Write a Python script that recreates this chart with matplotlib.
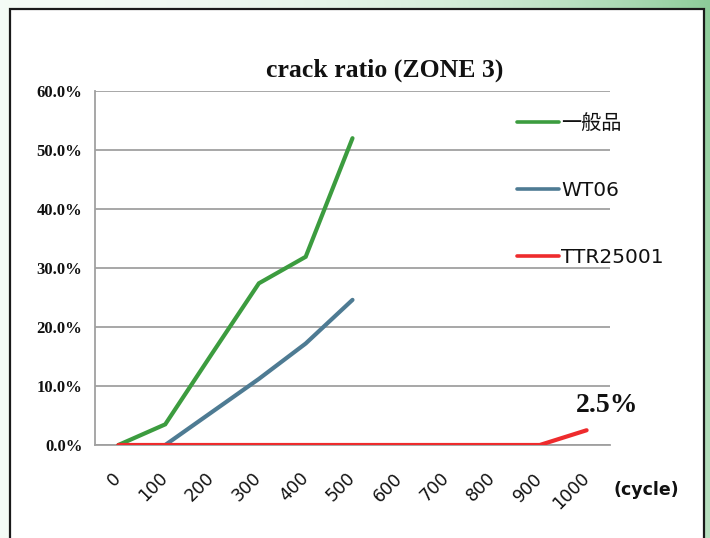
import numpy as np
import matplotlib
matplotlib.use("Agg")
import matplotlib.pyplot as plt
from matplotlib.patches import Rectangle
from matplotlib.ticker import PercentFormatter

cycles = ["0", "100", "200", "300", "400", "500", "600", "700", "800", "900", "1000"]
general = [0.0, 3.5, 15.5, 27.4, 31.9, 52.0, None, None, None, None, None]
wt06 = [None, 0.0, 5.6, 11.2, 17.2, 24.6, None, None, None, None, None]
ttr25001 = [0.0, 0.0, 0.0, 0.0, 0.0, 0.0, 0.0, 0.0, 0.0, 0.0, 2.5]
series_names = ["一般品", "WT06", "TTR25001"]
series_colors = ["#3c9c3f", "#4e7b93", "#ee2b2d"]
yticks = [0, 10, 20, 30, 40, 50, 60]

W, H = 710, 538
fig = plt.figure(figsize=(W / 100, H / 100), dpi=100)

# background gradient
bg = fig.add_axes([0, 0, 1, 1], zorder=-10)
bg.set_axis_off()
xx = np.linspace(0, 1, W)[None, :]
yy = np.linspace(0, 1, H)[:, None]
c0 = np.array([0.96, 0.985, 0.965])
c1 = np.array([0.55, 0.80, 0.60])
t = np.clip(0.15 * xx + 0.85 * xx ** 3 * (1 - 0.5 * yy), 0, 1)
img = c0[None, None, :] * (1 - t[..., None]) + c1[None, None, :] * t[..., None]
bg.imshow(img, extent=[0, W, H, 0], aspect="auto")
bg.set_xlim(0, W)
bg.set_ylim(H, 0)
bg.add_patch(Rectangle((9.5, 8.5), 694, 540, facecolor="white",
                       edgecolor="#1a1a1a", linewidth=1.6))

left, right, top, bottom = 95, 610, 91, 445
ax = fig.add_axes([left / W, 1 - bottom / H, (right - left) / W, (bottom - top) / H])
x = np.arange(len(cycles))

def arr(v):
    return np.array([np.nan if a is None else a for a in v], dtype=float)

for vals, name, col in zip([general, wt06, ttr25001], series_names, series_colors):
    ax.plot(x, arr(vals), color=col, lw=3.0, label=name, solid_capstyle="round",
            solid_joinstyle="miter", zorder=3)

ax.set_xlim(-0.5, len(cycles) - 0.5)
ax.set_ylim(0, 60)
ax.set_yticks(yticks)
ax.yaxis.set_major_formatter(PercentFormatter(decimals=1))
ax.grid(axis="y", color="#a0a0a0", lw=1.3)
ax.set_axisbelow(True)
for s in ["top", "right"]:
    ax.spines[s].set_visible(False)
ax.spines["left"].set_color("#a0a0a0")
ax.spines["bottom"].set_color("#a0a0a0")
ax.spines["left"].set_linewidth(1.3)
ax.spines["bottom"].set_linewidth(1.3)
ax.tick_params(length=0)
ax.tick_params(axis="y", pad=9)
for lbl in ax.get_yticklabels():
    lbl.set_fontfamily("Liberation Serif")
    lbl.set_fontweight("bold")
    lbl.set_fontsize(12)
    lbl.set_color("#111111")
ax.set_xticks(x)
ax.set_xticklabels(cycles, rotation=45, ha="right", va="center",
                   rotation_mode="anchor", fontsize=12.5, color="#111111",
                   family="DejaVu Sans")
ax.tick_params(axis="x", pad=22)

fig.text(385 / W, 1 - 70 / H, "crack ratio (ZONE 3)", ha="center", va="center",
         family="Liberation Serif", fontweight="bold", fontsize=18.5, color="#111111")

leg = ax.legend(loc="upper left", bbox_to_anchor=(499 / W, 1 - 96 / H),
                bbox_transform=fig.transFigure, frameon=False,
                handlelength=2.1, handletextpad=0.1, labelspacing=2.38,
                prop={"family": ["DejaVu Sans", "Noto Sans CJK JP"], "size": 14.5})
for txt in leg.get_texts():
    txt.set_color("#111111")
for ln in leg.get_lines():
    ln.set_linewidth(2.6)

ax.annotate("2.5%", xy=(x[-1], ttr25001[-1]), xytext=(607 / W, 1 - 406 / H),
            textcoords="figure fraction", ha="center", va="center",
            family="Liberation Serif", fontweight="bold", fontsize=20, color="#111111")

fig.text(646 / W, 1 - 490 / H, "(cycle)", ha="center", va="center",
         family="DejaVu Sans", fontweight="bold", fontsize=12.5, color="#111111")

fig.savefig("out.png", dpi=100)
